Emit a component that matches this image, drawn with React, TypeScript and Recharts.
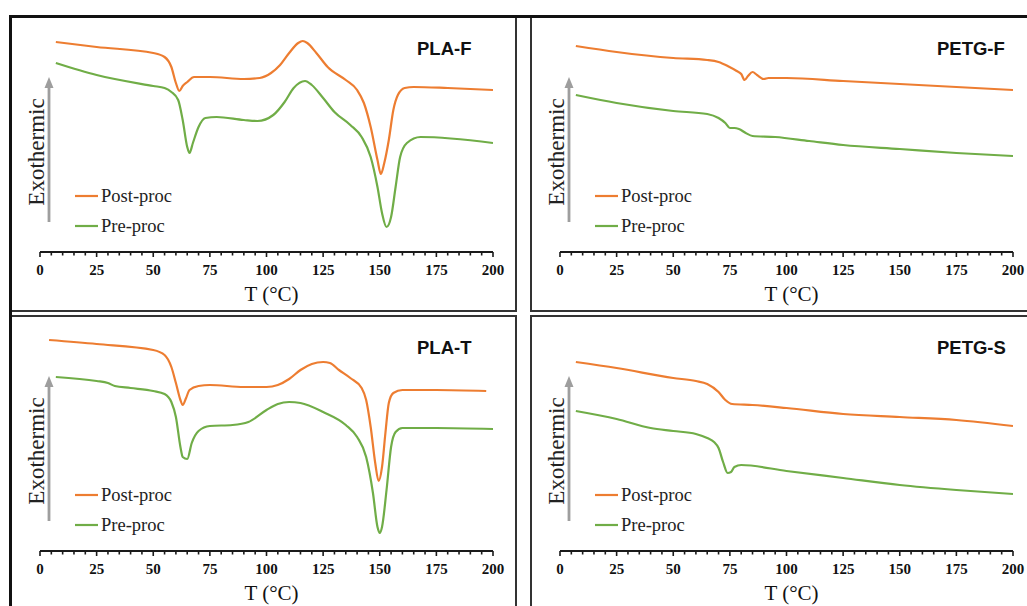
import { LineChart, Line, XAxis, YAxis, Label } from 'recharts';

// heat flow in arbitrary units (exo up), T in °C
const PLA_F_POST = [
  [7, 210], [25, 205], [50, 199], [55, 195], [58, 185], [60, 169], [61.5, 161], [63, 166], [65, 170],
  [68, 175], [75, 175], [90, 173], [97, 174], [102, 179], [106, 187], [110, 199], [114, 209], [116, 211],
  [118, 209], [122, 199], [127, 185], [135, 172], [140, 162], [143, 149], [146, 125], [149, 92],
  [150.5, 78], [152, 89], [154, 112], [156, 142], [158, 157], [161, 164], [165, 165], [180, 164], [200, 162],
];
const PLA_F_PRE = [
  [7, 189], [25, 177], [50, 166], [55, 164], [58, 160], [61, 152], [63, 132], [65, 105], [66, 99],
  [67.5, 109], [70, 125], [73, 134], [78, 135], [90, 132], [96, 131], [103, 137], [108, 150], [112, 164],
  [117, 171], [120, 167], [125, 154], [130, 140], [137, 127], [142, 115], [146, 95], [149, 65], [151, 39],
  [153, 25], [155, 35], [157, 65], [159, 95], [162, 109], [168, 115], [200, 109],
];
const PETG_F_POST = [
  [7, 206], [25, 200], [50, 194], [65, 192], [70, 190], [74, 186], [78, 181], [80, 178], [81.5, 172],
  [83, 176], [85, 180], [87, 177], [90, 173], [92, 174], [100, 174], [125, 171], [150, 168], [175, 165], [200, 162],
];
const PETG_F_PRE = [
  [7, 157], [25, 149], [50, 141], [65, 138], [70, 134], [73, 129], [75, 124], [77, 124], [79, 123],
  [82, 119], [85, 116], [95, 115], [110, 111], [125, 107], [150, 103], [175, 99], [200, 96],
];
const PLA_T_POST = [
  [4, 211], [25, 207], [50, 201], [55, 196], [58, 184], [60, 168], [62, 151], [63, 146], [64.5, 153],
  [66, 161], [70, 165], [75, 166], [90, 164], [100, 164], [105, 166], [110, 172], [115, 181], [120, 187],
  [125, 189], [128, 188], [132, 181], [137, 173], [142, 163], [144, 151], [146, 124], [148, 88],
  [149.5, 70], [151, 84], [152.5, 118], [154, 148], [156, 158], [160, 161], [175, 161], [197, 160],
];
const PLA_T_PRE = [
  [7, 174], [25, 170], [30, 168], [33, 165], [40, 163], [50, 160], [55, 157], [58, 149], [60, 134],
  [62, 104], [63, 94], [65, 92], [67, 108], [70, 120], [75, 125], [85, 126], [92, 129], [100, 141],
  [105, 147], [110, 149], [115, 148], [125, 139], [135, 126], [140, 114], [144, 94], [147, 58], [149, 24],
  [150, 18], [151, 24], [153, 61], [155, 104], [157, 119], [160, 123], [175, 123], [200, 122],
];
const PETG_S_POST = [
  [7, 189], [25, 183], [50, 173], [60, 170], [65, 167], [70, 159], [73, 151], [76, 147], [85, 146],
  [100, 143], [125, 137], [150, 134], [175, 131], [200, 125],
];
const PETG_S_PRE = [
  [7, 140], [25, 132], [40, 123], [50, 120], [60, 117], [65, 113], [68, 109], [70, 103], [72, 89],
  [74, 78], [75.5, 79], [77, 84], [80, 86], [100, 80], [125, 73], [150, 66], [175, 61], [200, 57],
];

const X_TICKS = [
  0, 5, 10, 15, 20, 25, 30, 35, 40, 45, 50, 55, 60, 65, 70, 75, 80, 85, 90, 95, 100,
  105, 110, 115, 120, 125, 130, 135, 140, 145, 150, 155, 160, 165, 170, 175, 180, 185, 190, 195, 200,
];
const SERIES_NAMES = ['Post-proc', 'Pre-proc'];
const COLORS = ['#ED7D31', '#70AD47'];

const SERIF = '"Liberation Serif", "Times New Roman", serif';
const SANS = '"Liberation Sans", Arial, sans-serif';

const toRows = (pts: number[][]) => pts.map(([t, q]) => ({ t, q }));

function TempTick(props: any) {
  const { x, y, payload } = props;
  const major = payload.value % 25 === 0;
  return (
    <g>
      <line x1={x} x2={x} y1={y} y2={y + (major ? 5 : 3.5)} stroke="#1a1a1a" strokeWidth={1.6} />
      {major && (
        <text x={x} y={y + 23} textAnchor="middle" fontFamily={SERIF} fontWeight="bold" fontSize={15} fill="#111">
          {payload.value}
        </text>
      )}
    </g>
  );
}

function Panel({ ox, oy, title, post, pre }: { ox: number; oy: number; title: string; post: number[][]; pre: number[][] }) {
  const series = [post, pre];
  return (
    <>
      <div style={{ position: 'absolute', left: 12 + ox, top: 18 + oy }}>
        <LineChart width={500} height={292} margin={{ top: 0, right: 19, left: 28, bottom: 0 }}>
          <XAxis
            type="number"
            dataKey="t"
            domain={[0, 200]}
            ticks={X_TICKS}
            interval={0}
            height={58}
            tickSize={0}
            tickMargin={0}
            tickLine={false}
            tick={<TempTick />}
            axisLine={{ stroke: '#1a1a1a', strokeWidth: 2 }}
            allowDataOverflow
          >
            <Label value="T (°C)" position="insideBottom" offset={9} dx={5} fontFamily={SERIF} fontSize={21} fill="#111" />
          </XAxis>
          <YAxis hide type="number" domain={[0, 234]} allowDataOverflow />
          {series.map((s, i) => (
            <Line
              key={SERIES_NAMES[i]}
              name={SERIES_NAMES[i]}
              data={toRows(s)}
              dataKey="q"
              type="monotone"
              stroke={COLORS[i]}
              strokeWidth={2.2}
              dot={false}
              isAnimationActive={false}
            />
          ))}
        </LineChart>
      </div>
      <svg
        style={{ position: 'absolute', left: ox, top: oy, overflow: 'visible', pointerEvents: 'none' }}
        width={517}
        height={300}
      >
        <line x1={49} x2={49} y1={86} y2={222} stroke="#9e9e9e" strokeWidth={2.8} />
        <polygon points="49,77 44.5,88 53.5,88" fill="#9e9e9e" />
        <text transform="translate(43.5,152) rotate(-90)" textAnchor="middle" fontFamily={SERIF} fontSize={23} fill="#222">
          Exothermic
        </text>
        <text x={417} y={54.5} fontFamily={SANS} fontWeight="bold" fontSize={18.5} fill="#111">
          {title}
        </text>
        {SERIES_NAMES.map((n, i) => (
          <g key={n}>
            <line x1={75} x2={98} y1={196 + i * 30} y2={196 + i * 30} stroke={COLORS[i]} strokeWidth={2.2} />
            <text x={101} y={202 + i * 29.5} fontFamily={SERIF} fontSize={18.5} fill="#222">
              {n}
            </text>
          </g>
        ))}
      </svg>
    </>
  );
}

const box = (left: number, top: number, width: number, height: number) => ({
  position: 'absolute' as const,
  left,
  top,
  width,
  height,
  border: '2px solid #333',
  boxSizing: 'border-box' as const,
});

export default function App() {
  return (
    <div style={{ position: 'absolute', left: 0, top: 0, width: 1027, height: 606, overflow: 'hidden', background: '#fff' }}>
      <div style={box(10, 16, 507, 296)} />
      <div style={box(530, 16, 600, 296)} />
      <div style={box(10, 315, 507, 400)} />
      <div style={box(530, 315, 600, 400)} />
      <div style={{ position: 'absolute', left: 9, top: 15, width: 1030, height: 3, background: '#111' }} />
      <div style={{ position: 'absolute', left: 9, top: 15, width: 3, height: 600, background: '#111' }} />
      <Panel ox={0} oy={0} title="PLA-F" post={PLA_F_POST} pre={PLA_F_PRE} />
      <Panel ox={520} oy={0} title="PETG-F" post={PETG_F_POST} pre={PETG_F_PRE} />
      <Panel ox={0} oy={299} title="PLA-T" post={PLA_T_POST} pre={PLA_T_PRE} />
      <Panel ox={520} oy={299} title="PETG-S" post={PETG_S_POST} pre={PETG_S_PRE} />
    </div>
  );
}
